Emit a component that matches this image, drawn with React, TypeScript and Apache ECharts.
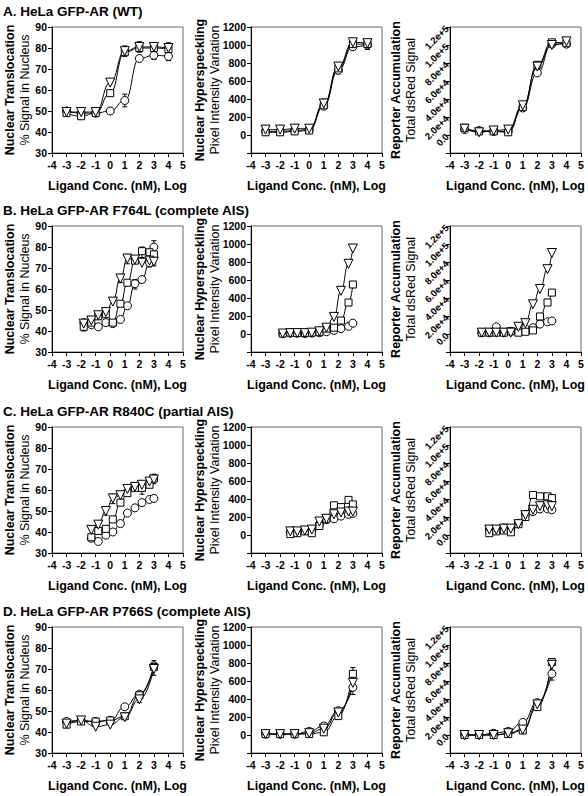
import React, { useEffect, useRef } from "react";
import * as echarts from "echarts";

const FONT = '"Liberation Sans", Arial, Helvetica, sans-serif';

// ---------- titles ----------
const rowTitles = [
  "A. HeLa GFP-AR (WT)",
  "B. HeLa GFP-AR F764L (complete AIS)",
  "C. HeLa GFP-AR R840C (partial AIS)",
  "D. HeLa GFP-AR P766S (complete AIS)",
];
const xTitle = "Ligand Conc. (nM), Log";
const yTitles = [
  ["Nuclear Translocation", "% Signal in Nucleus"],
  ["Nuclear Hyperspeckling", "Pixel Intensity Variation"],
  ["Reporter Accumulation", "Total dsRed Signal"],
];

// ---------- x positions (log nM) ----------
const xWT = [-3, -2, -1, 0, 1, 2, 3, 4];
const xF764L = [-1.82, -1.3, -0.82, -0.3, 0.18, 0.7, 1.18, 1.7, 2.18, 2.7, 3.0];
const xR840C = [-1.3, -0.82, -0.3, 0.18, 0.7, 1.18, 1.7, 2.18, 2.7, 3.0];
const xP766S = [-3, -2, -1, 0, 1, 2, 3];

// ---------- A: WT ----------
const a1Circle = [50, 49, 49, 50, 55, 75, 76.5, 76];
const a1Square = [49, 47.5, 49, 58.5, 78, 80, 80, 79.5];
const a1Tri = [49.5, 49.5, 49.5, 63.5, 78.5, 80.5, 80.5, 80];
const a1Err = [[0, 48.5, 51.5], [1, 52, 58], [1, 76, 81], [2, 78, 83], [3, 74.5, 78.5], [4, 74, 78], [4, 77.5, 82.5]];

const a2Circle = [40, 40, 50, 60, 320, 720, 980, 1000];
const a2Square = [30, 30, 40, 50, 330, 740, 1010, 1010];
const a2Tri = [60, 60, 70, 70, 350, 760, 1030, 1020];
const a2Err = [[1, 290, 400], [2, 680, 800], [3, 950, 1060], [4, 950, 1060]];

const a3Circle = [6000, 5000, 4000, 4000, 30000, 69000, 101000, 101000];
const a3Square = [8000, 4000, 4000, 3000, 31000, 78000, 103000, 102000];
const a3Tri = [7000, 3000, 5000, 6000, 33000, 76000, 100000, 104000];
const a3Err = [[3, 98000, 106000], [4, 98000, 106000]];

// ---------- B: F764L ----------
const b1Circle = [44, 43, 42, 44, 43.5, 45.5, 52, 62.5, 64.5, 72.5, 80];
const b1Square = [42, 44, 47, 48, 44, 53, 63, 73.5, 78, 77.5, 76.5];
const b1Tri = [43.5, 45, 47.5, 49, 54, 65, 74.5, 74, 72.5, 73.5, 73];
const b1Err = [[-1.82, 40, 45], [0.7, 63, 67], [1.18, 72, 76.5], [1.7, 60, 64.5], [2.18, 75, 80], [2.7, 70.5, 75], [3.0, 77, 83], [3.0, 72, 80], [3.0, 71, 75]];

const b2Circle = [5, 10, 10, 5, 10, 15, 25, 40, 60, 85, 120];
const b2Square = [5, 15, 10, 10, 15, 20, 60, 70, 150, 350, 550];
const b2Tri = [5, 10, 10, 10, 15, 30, 70, 190, 480, 780, 950];
const b2Err: number[][] = [];

const b3Circle = [1500, 1500, 8000, 1500, 3000, 3000, 6000, 7000, 11000, 13500, 14500];
const b3Square = [1500, 1500, 1500, 1500, 3000, 1500, 2500, 4000, 19500, 35000, 46000];
const b3Tri = [1500, 1500, 1500, 1500, 1500, 8000, 12000, 33000, 50000, 72000, 90000];
const b3Err: number[][] = [];

// ---------- C: R840C ----------
const c1Circle = [37, 35.5, 38.5, 40, 44, 49, 51.5, 54, 55.5, 56];
const c1Square = [37.5, 40.5, 41.5, 46, 54, 58.5, 61, 61, 62.5, 65.5];
const c1Tri = [41, 43.5, 50, 56, 57.5, 60.5, 61.5, 62.5, 64, 65];
const c1Err = [[-0.3, 48, 52], [0.18, 53.5, 58], [2.18, 58, 63], [3.0, 63, 67.5]];

const c2Circle = [30, 30, 50, 50, 120, 170, 180, 210, 230, 240];
const c2Square = [10, 20, 40, 20, 100, 180, 330, 310, 390, 340];
const c2Tri = [40, 40, 50, 60, 150, 180, 230, 250, 260, 260];
const c2Err: number[][] = [];

const c3Circle = [6000, 6000, 8000, 6000, 13000, 23000, 26000, 29000, 29000, 28000];
const c3Square = [2000, 4000, 5000, 3000, 12000, 20000, 44500, 43000, 43000, 41000];
const c3Tri = [6000, 6000, 7000, 7000, 12000, 22000, 28000, 32000, 33000, 32000];
const c3Err: number[][] = [];

// ---------- D: P766S ----------
const d1Circle = [45, 45.5, 45, 45.5, 52, 58, 71.5];
const d1Square = [43.5, 45, 45, 45.5, 47.5, 57.5, 71];
const d1Tri = [44, 45.5, 42.5, 43.5, 47, 55.5, 70];
const d1Err = [[2, 54, 59], [3, 67, 74]];

const d2Circle = [10, 10, 10, 40, 100, 270, 530];
const d2Square = [10, 10, 10, 10, 30, 210, 680];
const d2Tri = [10, 10, 10, 20, 70, 250, 580];
const d2Err = [[3, 610, 750], [3, 450, 600]];

const d3Circle = [0, 0, 2000, 4000, 14000, 36000, 68000];
const d3Square = [0, 0, 0, 1000, 5000, 31000, 81000];
const d3Tri = [0, 0, 0, 2000, 6000, 34000, 78000];
const d3Err = [[3, 61000, 72000]];

type Panel = { x: number[]; circle: number[]; square: number[]; tri: number[]; err: number[][] };

const panels: Panel[][] = [
  [
    { x: xWT, circle: a1Circle, square: a1Square, tri: a1Tri, err: a1Err },
    { x: xWT, circle: a2Circle, square: a2Square, tri: a2Tri, err: a2Err },
    { x: xWT, circle: a3Circle, square: a3Square, tri: a3Tri, err: a3Err },
  ],
  [
    { x: xF764L, circle: b1Circle, square: b1Square, tri: b1Tri, err: b1Err },
    { x: xF764L, circle: b2Circle, square: b2Square, tri: b2Tri, err: b2Err },
    { x: xF764L, circle: b3Circle, square: b3Square, tri: b3Tri, err: b3Err },
  ],
  [
    { x: xR840C, circle: c1Circle, square: c1Square, tri: c1Tri, err: c1Err },
    { x: xR840C, circle: c2Circle, square: c2Square, tri: c2Tri, err: c2Err },
    { x: xR840C, circle: c3Circle, square: c3Square, tri: c3Tri, err: c3Err },
  ],
  [
    { x: xP766S, circle: d1Circle, square: d1Square, tri: d1Tri, err: d1Err },
    { x: xP766S, circle: d2Circle, square: d2Square, tri: d2Tri, err: d2Err },
    { x: xP766S, circle: d3Circle, square: d3Square, tri: d3Tri, err: d3Err },
  ],
];

// ---------- layout ----------
const colLeft = [52, 251, 450];
const rowTop = [27, 226, 427, 627];
const gridW = 131;
const gridH = 126;
const titleTop = [4, 203, 404, 604];
const yNameGap = [19.5, 29, 31.5];

const yScales = [
  { min: 30, max: 90, interval: 10 },
  { min: -200, max: 1200, interval: 200 },
  { min: -20000, max: 120000, interval: 20000 },
];

function fmtY(col: number, v: number): string {
  if (v < 0) return "";
  if (col === 2) {
    if (v === 0) return "0.0";
    return v.toExponential(1);
  }
  return String(v);
}

function buildOption() {
  const grids: any[] = [];
  const xAxes: any[] = [];
  const yAxes: any[] = [];
  const series: any[] = [];
  const titles: any[] = [];

  rowTitles.forEach((t, r) => {
    titles.push({
      text: t,
      left: 3,
      top: titleTop[r],
      padding: 0,
      textStyle: { fontFamily: FONT, fontWeight: "bold", fontSize: 13.5, color: "#000" },
    });
  });

  const symbolStyle = { color: "#fff", borderColor: "#000", borderWidth: 1 };

  for (let r = 0; r < 4; r++) {
    for (let c = 0; c < 3; c++) {
      const idx = grids.length;
      grids.push({
        left: colLeft[c],
        top: rowTop[r],
        width: gridW,
        height: gridH,
        show: true,
        borderColor: "#666",
        borderWidth: 1,
        backgroundColor: "transparent",
        containLabel: false,
        outerBoundsMode: "none",
      });
      xAxes.push({
        type: "value",
        gridIndex: idx,
        min: -4,
        max: 5,
        interval: 1,
        name: xTitle,
        nameLocation: "middle",
        nameGap: 26,
        nameMoveOverlap: false,
        nameTextStyle: { fontFamily: FONT, fontWeight: "bold", fontSize: 12.5, color: "#000" },
        axisLine: { show: true, onZero: false, lineStyle: { color: "#000", width: 1 } },
        axisTick: { show: true, inside: false, length: 4, lineStyle: { color: "#000" } },
        axisLabel: {
          fontFamily: FONT,
          fontWeight: "bold",
          fontSize: 10.5,
          color: "#000",
          margin: 6,
          showMinLabel: true,
          showMaxLabel: true,
        },
        splitLine: { show: false },
      });
      const ys = yScales[c];
      yAxes.push({
        type: "value",
        gridIndex: idx,
        min: ys.min,
        max: ys.max,
        interval: ys.interval,
        name: `{b|${yTitles[c][0]}}\n{n|${yTitles[c][1]}}`,
        nameLocation: "middle",
        nameRotate: 90,
        nameGap: yNameGap[c],
        nameMoveOverlap: false,
        nameTextStyle: {
          color: "#000",
          rich: {
            b: { fontFamily: FONT, fontWeight: "bold", fontSize: 12.5, lineHeight: 15, color: "#000" },
            n: { fontFamily: FONT, fontWeight: "normal", fontSize: 12.5, lineHeight: 15, color: "#000" },
          },
        },
        axisLine: { show: true, onZero: false, lineStyle: { color: "#000", width: 1 } },
        axisTick: { show: true, inside: false, length: 4, lineStyle: { color: "#000" } },
        axisLabel: {
          fontFamily: FONT,
          fontWeight: "bold",
          fontSize: c === 2 ? 9.5 : 10.5,
          color: "#000",
          margin: c === 2 ? 3 : 5,
          rotate: c === 2 ? 45 : 0,
          formatter: (v: number) => fmtY(c, v),
        },
        splitLine: { show: false },
      });

      const p = panels[r][c];
      const kinds: [string, number[], number, number][] = [
        ["circle", p.circle, 0, 8],
        ["rect", p.square, 0, 7],
        ["triangle", p.tri, 180, 9],
      ];
      // error bars
      if (p.err.length) {
        series.push({
          type: "custom",
          xAxisIndex: idx,
          yAxisIndex: idx,
          z: 1,
          silent: true,
          data: p.err,
          encode: { x: 0, y: [1, 2] },
          renderItem: (_params: any, api: any) => {
            const xv = api.value(0);
            const lo = api.coord([xv, api.value(1)]);
            const hi = api.coord([xv, api.value(2)]);
            const cap = 2.5;
            const st = { stroke: "#000", lineWidth: 1 };
            return {
              type: "group",
              children: [
                { type: "line", shape: { x1: lo[0], y1: lo[1], x2: hi[0], y2: hi[1] }, style: st },
                { type: "line", shape: { x1: hi[0] - cap, y1: hi[1], x2: hi[0] + cap, y2: hi[1] }, style: st },
                { type: "line", shape: { x1: lo[0] - cap, y1: lo[1], x2: lo[0] + cap, y2: lo[1] }, style: st },
              ],
            };
          },
        });
      }
      kinds.forEach(([sym, ys2, rot, size]) => {
        series.push({
          type: "line",
          xAxisIndex: idx,
          yAxisIndex: idx,
          z: 3,
          data: p.x.map((xv, i) => [xv, ys2[i]]),
          symbol: sym,
          symbolRotate: rot,
          symbolSize: size,
          showSymbol: true,
          smooth: 0.5,
          smoothMonotone: "x",
          lineStyle: { color: "#000", width: 1 },
          itemStyle: symbolStyle,
          emphasis: { disabled: true },
        });
      });
    }
  }

  return {
    animation: false,
    backgroundColor: "#fff",
    textStyle: { fontFamily: FONT },
    title: titles,
    grid: grids,
    xAxis: xAxes,
    yAxis: yAxes,
    series,
  };
}

export default function App() {
  const ref = useRef<HTMLDivElement>(null);
  useEffect(() => {
    if (!ref.current) return;
    const chart = echarts.init(ref.current, undefined, { renderer: "svg" });
    chart.setOption(buildOption() as any);
    return () => {
      chart.dispose();
    };
  }, []);
  return (
    <div
      ref={ref}
      style={{ position: "absolute", left: 0, top: 0, width: 588, height: 796, background: "#fff" }}
    />
  );
}
